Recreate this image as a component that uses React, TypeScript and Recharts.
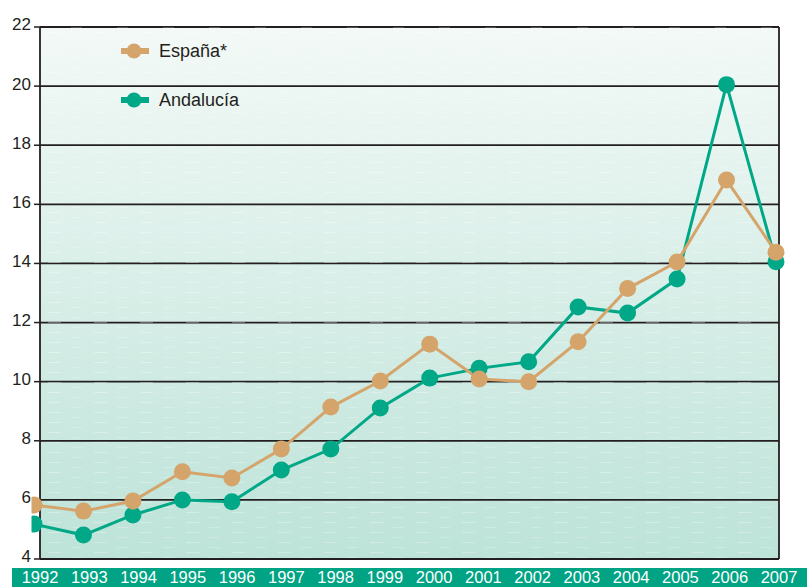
import React from "react";
import {
  LineChart,
  Line,
  XAxis,
  YAxis,
  CartesianGrid,
  ReferenceLine,
  ReferenceArea,
  Legend,
} from "recharts";

const years = [1992, 1993, 1994, 1995, 1996, 1997, 1998, 1999, 2000, 2001, 2002, 2003, 2004, 2005, 2006, 2007];
const espana = [5.83, 5.62, 5.96, 6.95, 6.74, 7.72, 9.14, 10.02, 11.27, 10.09, 10.0, 11.35, 13.15, 14.05, 16.82, 14.38];
const andalucia = [5.18, 4.81, 5.49, 6.0, 5.94, 7.01, 7.72, 9.11, 10.12, 10.45, 10.67, 12.53, 12.32, 13.47, 20.05, 14.06];
const yTicks = [4, 6, 8, 10, 12, 14, 16, 18, 20, 22];

const ORANGE = "#d5a46b";
const GREEN = "#00a887";
const INK = "#231f20";
const FONT = '"Liberation Sans", Arial, Helvetica, sans-serif';

const data = years.map((year, i) => ({ year, espana: espana[i], andalucia: andalucia[i] }));

const XTick = (props: any) => {
  const { x, payload } = props;
  return (
    <text x={x} y={583} textAnchor="middle" fill="#ffffff" fontSize={16.5} fontFamily={FONT}>
      {payload.value}
    </text>
  );
};

const YTick = (props: any) => {
  const { x, y, payload } = props;
  return (
    <text x={x} y={y - 2.5} dy="0.35em" textAnchor="end" fill={INK} fontSize={17} fontFamily={FONT}>
      {payload.value}
    </text>
  );
};

const legendItems = [
  { name: "España*", color: ORANGE },
  { name: "Andalucía", color: GREEN },
];

const LegendContent = () => (
  <div style={{ fontFamily: FONT, fontSize: 18, color: INK }}>
    {legendItems.map((it, i) => (
      <div key={it.name} style={{ display: "flex", alignItems: "center", height: 22, marginBottom: i === 0 ? 27 : 0 }}>
        <svg width={30} height={18} style={{ marginRight: 9 }}>
          <rect x={1} y={6} width={28} height={6} fill={it.color} />
          <circle cx={14} cy={9} r={7.5} fill={it.color} />
        </svg>
        <span>{it.name}</span>
      </div>
    ))}
  </div>
);

export default function App() {
  return (
    <div style={{ position: "absolute", top: 0, left: 0, width: 807, height: 587, background: "#fff" }}>
      <div style={{ position: "absolute", left: 12, top: 568, width: 795, height: 19, background: "#00a383" }} />
      <div style={{ position: "absolute", left: 0, top: 0 }}>
        <LineChart width={807} height={587} data={data} margin={{ top: 27, right: 28, bottom: 0, left: 0 }}>
          <defs>
            <linearGradient id="bg" x1="0" y1="0" x2="0" y2="1">
              <stop offset="0%" stopColor="#f3f9f7" />
              <stop offset="100%" stopColor="#bde3d8" />
            </linearGradient>
            <pattern id="tex" x="0" y="0" width="46" height="10" patternUnits="userSpaceOnUse">
              <rect x="2" y="2" width="13" height="1" fill="#ffffff" opacity="0.3" />
              <rect x="25" y="7" width="11" height="1" fill="#ffffff" opacity="0.22" />
            </pattern>
          </defs>
          <CartesianGrid xAxisId="t" vertical={false} fill="url(#bg)" fillOpacity={1} stroke={INK} strokeWidth={1.8} />
          <XAxis
            xAxisId="t"
            type="number"
            dataKey="year"
            domain={[1992, 2007]}
            ticks={years}
            interval={0}
            allowDataOverflow
            height={28}
            tickSize={4}
            tick={XTick}
            axisLine={{ stroke: INK, strokeWidth: 1.8 }}
            tickLine={{ stroke: INK, strokeWidth: 1.5 }}
          />
          <XAxis xAxisId="d" type="number" dataKey="year" domain={[1992.1213, 2007.0607]} allowDataOverflow hide />
          <YAxis
            type="number"
            domain={[4, 22]}
            ticks={yTicks}
            interval={0}
            width={40}
            tickSize={6}
            tickMargin={3}
            tick={YTick}
            axisLine={{ stroke: INK, strokeWidth: 1.8 }}
            tickLine={{ stroke: INK, strokeWidth: 1.5 }}
          />
          <ReferenceArea xAxisId="t" x1={1992} x2={2007} y1={4} y2={22} fill="url(#tex)" fillOpacity={1} stroke="none" />
          <ReferenceLine xAxisId="t" x={2007} stroke={INK} strokeWidth={1.8} />
          <Legend
            layout="vertical"
            align="center"
            verticalAlign="middle"
            content={<LegendContent />}
            wrapperStyle={{ position: "absolute", top: 40, left: 120, width: 200 }}
          />
          <Line
            xAxisId="d"
            dataKey="andalucia"
            name="Andalucía"
            stroke={GREEN}
            strokeWidth={3}
            dot={{ r: 8.5, fill: GREEN, stroke: GREEN, strokeWidth: 0, clipDot: false }}
            isAnimationActive={false}
          />
          <Line
            xAxisId="d"
            dataKey="espana"
            name="España*"
            stroke={ORANGE}
            strokeWidth={3}
            dot={{ r: 8.5, fill: ORANGE, stroke: ORANGE, strokeWidth: 0, clipDot: false }}
            isAnimationActive={false}
          />
        </LineChart>
      </div>
    </div>
  );
}
